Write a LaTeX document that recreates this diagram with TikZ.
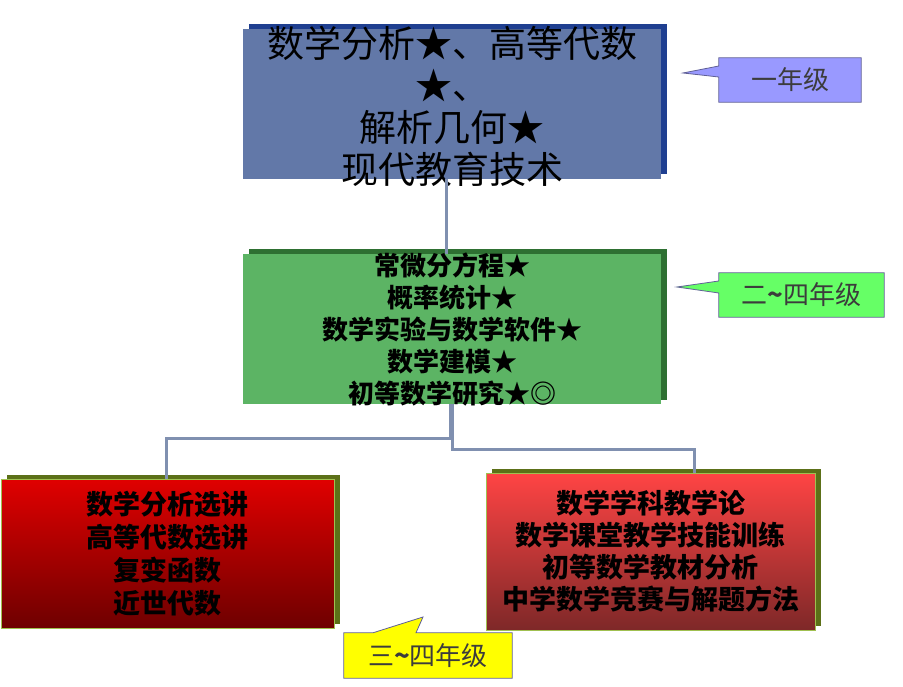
\documentclass[tikz,border=0pt]{standalone}
\usepackage{fontspec}
\setmainfont{Noto Sans CJK SC}
\usetikzlibrary{positioning, shadows, backgrounds, calc}
\definecolor{BB}{RGB}{98,120,168}
\definecolor{BS}{RGB}{31,63,144}
\definecolor{GB}{RGB}{92,180,100}
\definecolor{GS}{RGB}{46,112,50}
\definecolor{RT}{RGB}{224,0,0}
\definecolor{RD}{RGB}{110,0,0}
\definecolor{PT}{RGB}{255,68,68}
\definecolor{PD}{RGB}{126,40,40}
\definecolor{OS}{RGB}{92,112,24}
\definecolor{OL}{RGB}{160,192,80}
\definecolor{LK}{RGB}{128,144,176}
\definecolor{TV}{RGB}{153,153,255}
\definecolor{TG}{RGB}{102,255,102}
\definecolor{TY}{RGB}{255,255,0}
\definecolor{TE}{RGB}{96,96,150}
\definecolor{DG}{RGB}{60,60,60}

\begin{document}
\begin{tikzpicture}[x=1pt, y=-1pt,
  box/.style={draw=none, fill=#1, inner sep=0pt},
  rbox/.style 2 args={top color=#1, bottom color=#2, draw=OL, line width=0.8pt,
              inner sep=0pt, align=center},
  shadowed/.style={general shadow={fill=#1, shadow xshift=6pt, shadow yshift=4.5pt}},
  txt/.style={align=center, inner sep=0pt, font=#1},
  link/.style={draw=LK, line width=3pt},
  tag/.style={draw=TE, line width=0.8pt, fill=#1},
  tagtxt/.style={font=\fontsize{26}{30}\selectfont, text=DG, inner sep=0pt}
]
\useasboundingbox (0,0) rectangle (903,687);

% First year
\node[box=BB, shadowed=BS, minimum width=418pt, minimum height=150pt] (year1) at (452,104) {};
\node[txt={\fontsize{37}{42}\selectfont}] (year1txt) at (452,106)
  {数学分析★、高等代数\\★、\\解析几何★\\现代教育技术};

% Second to fourth year
\node[box=GB, shadowed=GS, minimum width=418pt, minimum height=150pt] (year2) at (452,329) {};
\node[txt={\bfseries\fontsize{26}{32}\selectfont}] (year2txt) at (452,330)
  {常微分方程★\\概率统计★\\数学实验与数学软件★\\数学建模★\\初等数学研究★◎};

% Third and fourth year
\node[rbox={RT}{RD}, shadowed=OS, minimum width=333pt, minimum height=149pt,
      font=\bfseries\fontsize{27}{33}\selectfont] (pure) at (167.5,553.5)
  {数学分析选讲\\高等代数选讲\\复变函数\\近世代数};
\node[rbox={PT}{PD}, shadowed=OS, minimum width=329pt, minimum height=157pt,
      font=\bfseries\fontsize{27}{32}\selectfont] (teach) at (650.5,551.5)
  {数学学科教学论\\数学课堂教学技能训练\\初等数学教材分析\\中学数学竞赛与解题方法};

% Connections
\draw[link] ([xshift=-6pt]year1.south) -- ([xshift=-6pt]year1.south |- year2.north);
\draw[link] ([xshift=-2pt]year2.south) -- ++(0,34) -| ([xshift=-1.5pt]pure.north);
\draw[link] (year2.south) -- ++(0,45) -| ([xshift=43.5pt]teach.north);

% Year tags
\node[tagtxt, minimum width=142pt, minimum height=44pt] (tag1) at (790,80) {一年级};
\node[tagtxt, minimum width=165pt, minimum height=44pt] (tag2) at (801.5,295) {二\textbf{\textasciitilde}四年级};
\node[tagtxt, minimum width=168pt, minimum height=45pt] (tag3) at (428,655.5) {三\textbf{\textasciitilde}四年级};
\coordinate (tip1) at (683,73);
\coordinate (tip2) at (677,287);
\coordinate (tip3) at (423,617);
\begin{scope}[on background layer]
  \draw[tag=TV] (tag1.north west) -- (tag1.north east) -- (tag1.south east) -- (tag1.south west)
    -- ([yshift=3pt]tag1.west) -- (tip1) -- ([yshift=14pt]tag1.west) -- cycle;
  \draw[tag=TG] (tag2.north west) -- (tag2.north east) -- (tag2.south east) -- (tag2.south west)
    -- ([yshift=2pt]tag2.west) -- (tip2) -- ([yshift=14pt]tag2.west) -- cycle;
  \draw[tag=TY] (tag3.north west) -- ([xshift=-55pt]tag3.north) -- (tip3)
    -- ([xshift=-12pt]tag3.north) -- (tag3.north east) -- (tag3.south east) -- (tag3.south west) -- cycle;
\end{scope}
\end{tikzpicture}
\end{document}
